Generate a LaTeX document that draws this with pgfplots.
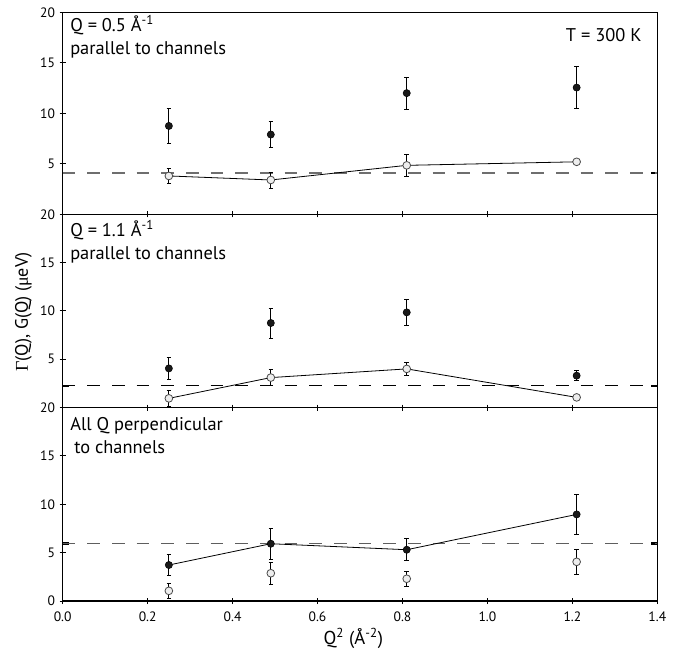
\documentclass[border=0pt]{standalone}
\usepackage{pgfplots}
\pgfplotsset{compat=1.18}
\usepackage{fontspec}
\setmainfont{PT Sans}
\newfontfamily\grk{Liberation Serif}

\definecolor{dashgray}{HTML}{6E6E6E}
\definecolor{openfill}{HTML}{EDEDED}
\definecolor{openedge}{HTML}{4A4A4A}

\pgfplotsset{
  panel/.style={
    scale only axis, width=446pt,
    xmin=0, xmax=1.4, ymin=0, ymax=20,
    xtick={0,0.2,0.4,0.6,0.8,1.0,1.2,1.4},
    ytick={5,10,15,20},
    ytick pos=left,
    tick align=center,
    major tick length=4.5pt,
    every tick/.style={black, line width=0.7pt},
    axis line style={black, line width=0.8pt},
    /pgf/number format/assume math mode=true,
    tick label style={font=\fontsize{10.2}{12}\selectfont},
    xticklabel style={yshift=-2pt, /pgf/number format/.cd, fixed, fixed zerofill, precision=1},
    extra y tick labels={},
    extra y tick style={ytick pos=both, tick align=inside, major tick length=5pt,
      every tick/.style={black, line width=1.6pt}},
  },
  filled/.style={only marks, mark=*, mark size=2.7pt,
    mark options={fill=black!90, draw=black},
    error bars/y dir=both, error bars/y explicit,
    error bars/error bar style={line width=0.6pt, black},
    error bars/error mark options={rotate=90, mark size=1.7pt, line width=0.6pt, black}},
  opened/.style={only marks, mark=*, mark size=2.9pt,
    mark options={fill=openfill, draw=openedge, line width=0.6pt},
    error bars/y dir=both, error bars/y explicit,
    error bars/error bar style={line width=0.6pt, black},
    error bars/error mark options={rotate=90, mark size=1.7pt, line width=0.6pt, black}},
  conn/.style={black, line width=0.6pt, no marks},
  dline/.style={line width=1pt, dash pattern=on 9.5pt off 9pt, no marks},
}

\begin{document}
\begin{tikzpicture}
\path[use as bounding box] (0,0) rectangle (510pt,486.75pt);

% Panel 1
\begin{axis}[panel, at={(47pt,326pt)}, anchor=south west, height=151.5pt,
  xtick pos=lower, xticklabels={}, extra y ticks={4.1}]
\addplot[dline, dashgray] coordinates {(0,4.1) (1.4,4.1)};
\addplot[conn] table[x=x, y=y] {
x y
0.25 3.8
0.49 3.4
0.81 4.85
1.21 5.2
};
\addplot[filled] table[x=x, y=y, y error=e] {
x y e
0.25 8.75 1.7
0.49 7.9 1.3
0.81 12.0 1.6
1.21 12.55 2.1
};
\addplot[opened] table[x=x, y=y, y error=e] {
x y e
0.25 3.8 0.7
0.49 3.4 0.8
0.81 4.85 1.1
1.21 5.2 0
};
\end{axis}

% Panel 2
\begin{axis}[panel, at={(47pt,181.1pt)}, anchor=south west, height=144.9pt,
  xtick pos=both, xticklabels={}, extra y ticks={2.25}]
\addplot[dline, black] coordinates {(0,2.25) (1.4,2.25)};
\addplot[conn] table[x=x, y=y] {
x y
0.25 0.95
0.49 3.1
0.81 4.0
1.21 1.05
};
\addplot[filled] table[x=x, y=y, y error=e] {
x y e
0.25 4.05 1.1
0.49 8.75 1.55
0.81 9.85 1.35
1.21 3.3 0.5
};
\addplot[opened] table[x=x, y=y, y error=e] {
x y e
0.25 0.95 0.8
0.49 3.1 0.8
0.81 4.0 0.7
1.21 1.05 0.2
};
\end{axis}

% Panel 3
\begin{axis}[panel, at={(47pt,36pt)}, anchor=south west, height=145.1pt,
  xtick pos=both, ytick={0,5,10,15,20}, extra y ticks={5.95}]
\addplot[dline, dashgray!85!black] coordinates {(0,5.95) (1.4,5.95)};
\addplot[conn] table[x=x, y=y] {
x y
0.25 3.72
0.49 5.92
0.81 5.3
1.21 8.95
};
\addplot[opened] table[x=x, y=y, y error=e] {
x y e
0.25 1.05 0.8
0.49 2.87 1.15
0.81 2.3 0.8
1.21 4.05 1.3
};
\addplot[filled] table[x=x, y=y, y error=e] {
x y e
0.25 3.72 1.05
0.49 5.92 1.6
0.81 5.3 1.15
1.21 8.95 2.1
};
\end{axis}

% Annotations
\begin{scope}[every node/.style={inner sep=0pt, font=\fontsize{13.8}{16}\selectfont}]
\node[anchor=base west] at (52.5pt,463pt) {Q = 0.5 Å\textsuperscript{-1}};
\node[anchor=base west] at (52.5pt,445.5pt) {parallel to channels};
\node[anchor=base east] at (481.3pt,455.5pt) {T = 300 K};
\node[anchor=base west] at (52.5pt,309.2pt) {Q = 1.1 Å\textsuperscript{-1}};
\node[anchor=base west] at (52.5pt,291.75pt) {parallel to channels};
\node[anchor=base west] at (52.5pt,163.7pt) {All Q perpendicular};
\node[anchor=base west] at (55.5pt,146.8pt) {to channels};
\node[rotate=90, anchor=center, font=\fontsize{13.5}{15}\selectfont] at (17.6pt,252.75pt)
  {{\grk Γ}(Q), G(Q) ({\grk μ}eV)};
\node[anchor=base, font=\fontsize{14}{16}\selectfont] at (265pt,3.75pt)
  {Q\textsuperscript{2} (Å\textsuperscript{-2})};
\end{scope}
\end{tikzpicture}
\end{document}
